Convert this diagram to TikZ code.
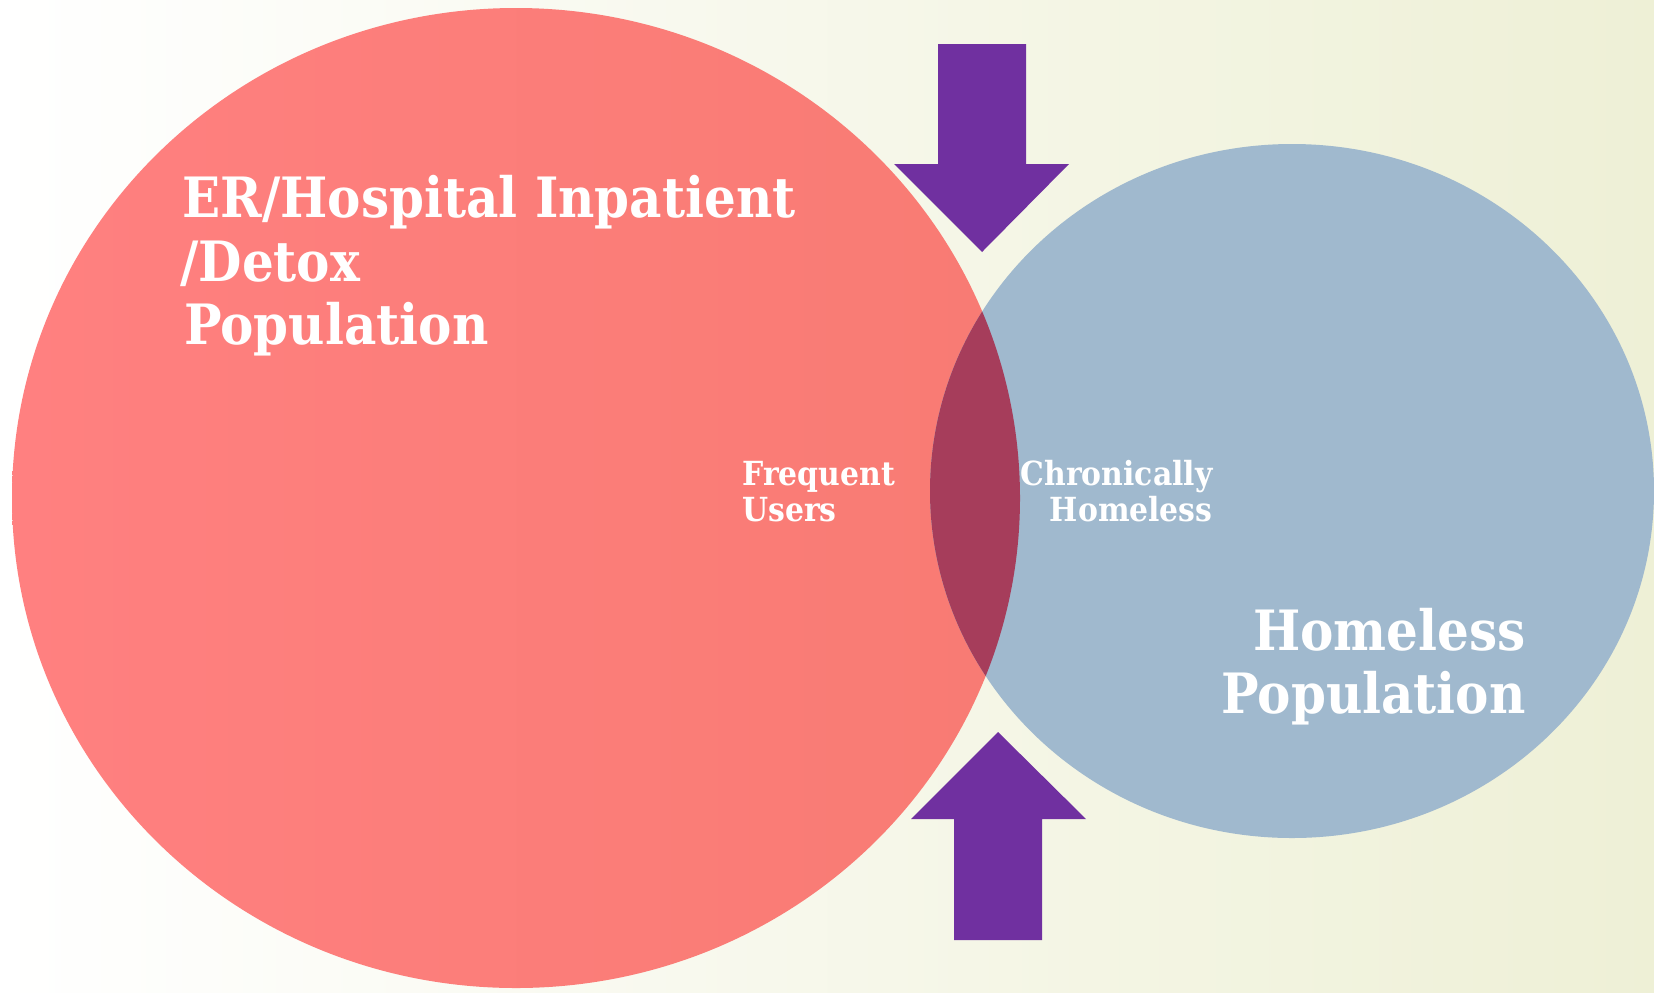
\documentclass[tikz,border=0pt]{standalone}
\usepackage{fontspec}
\setmainfont{DejaVu Serif Condensed}
\definecolor{bgcream}{HTML}{EEF0D6}
\definecolor{redL}{HTML}{FF8080}
\definecolor{redR}{HTML}{F87B73}
\definecolor{blueC}{HTML}{A0B9CE}
\definecolor{lensC}{HTML}{A63D5B}
\definecolor{arrowpurple}{HTML}{7030A0}
\begin{document}
\begin{tikzpicture}[x=0.5pt,y=-0.5pt,
  biglabel/.style={text=white, font=\bfseries\fontsize{27.8}{32}\selectfont, inner sep=0pt},
  smalllabel/.style={text=white, font=\bfseries\fontsize{16.6}{19}\selectfont, inner sep=0pt},
  pointer/.style={fill=arrowpurple}]
\useasboundingbox (0,0) rectangle (1654,992);
% background
\shade[left color=white, right color=bgcream] (0,0) rectangle (1654,992);
% hospital population circle
\shade[left color=redL, right color=redR] (516,498) ellipse [x radius=504, y radius=490];
% homeless population circle
\fill[blueC] (1292,491) ellipse [x radius=362, y radius=347];
% overlap of the two populations
\begin{scope}
  \clip (516,498) ellipse [x radius=504, y radius=490];
  \fill[lensC] (1292,491) ellipse [x radius=362, y radius=347];
\end{scope}
% block arrows pointing at the overlap
\fill[pointer] (938,44) -- (1026,44) -- (1026,164) -- (1069,164) -- (982,252)
  -- (894,164) -- (938,164) -- cycle;
\fill[pointer] (954,940) -- (1042,940) -- (1042,819) -- (1086,819) -- (998,732)
  -- (911,819) -- (954,819) -- cycle;
% labels
\node[biglabel, anchor=base west] (er1) at (182,217) {ER/Hospital Inpatient};
\node[biglabel, anchor=base west] (er2) at (180,281) {/Detox};
\node[biglabel, anchor=base west] (er3) at (184,344) {Population};
\node[smalllabel, anchor=base west] (fu1) at (742,485) {Frequent};
\node[smalllabel, anchor=base west] (fu2) at (742,521) {Users};
\node[smalllabel, anchor=base east] (ch1) at (1213,485) {Chronically};
\node[smalllabel, anchor=base east] (ch2) at (1213,521) {Homeless};
\node[biglabel, anchor=base east] (hp1) at (1526,650) {Homeless};
\node[biglabel, anchor=base east] (hp2) at (1526,713) {Population};
\end{tikzpicture}
\end{document}
